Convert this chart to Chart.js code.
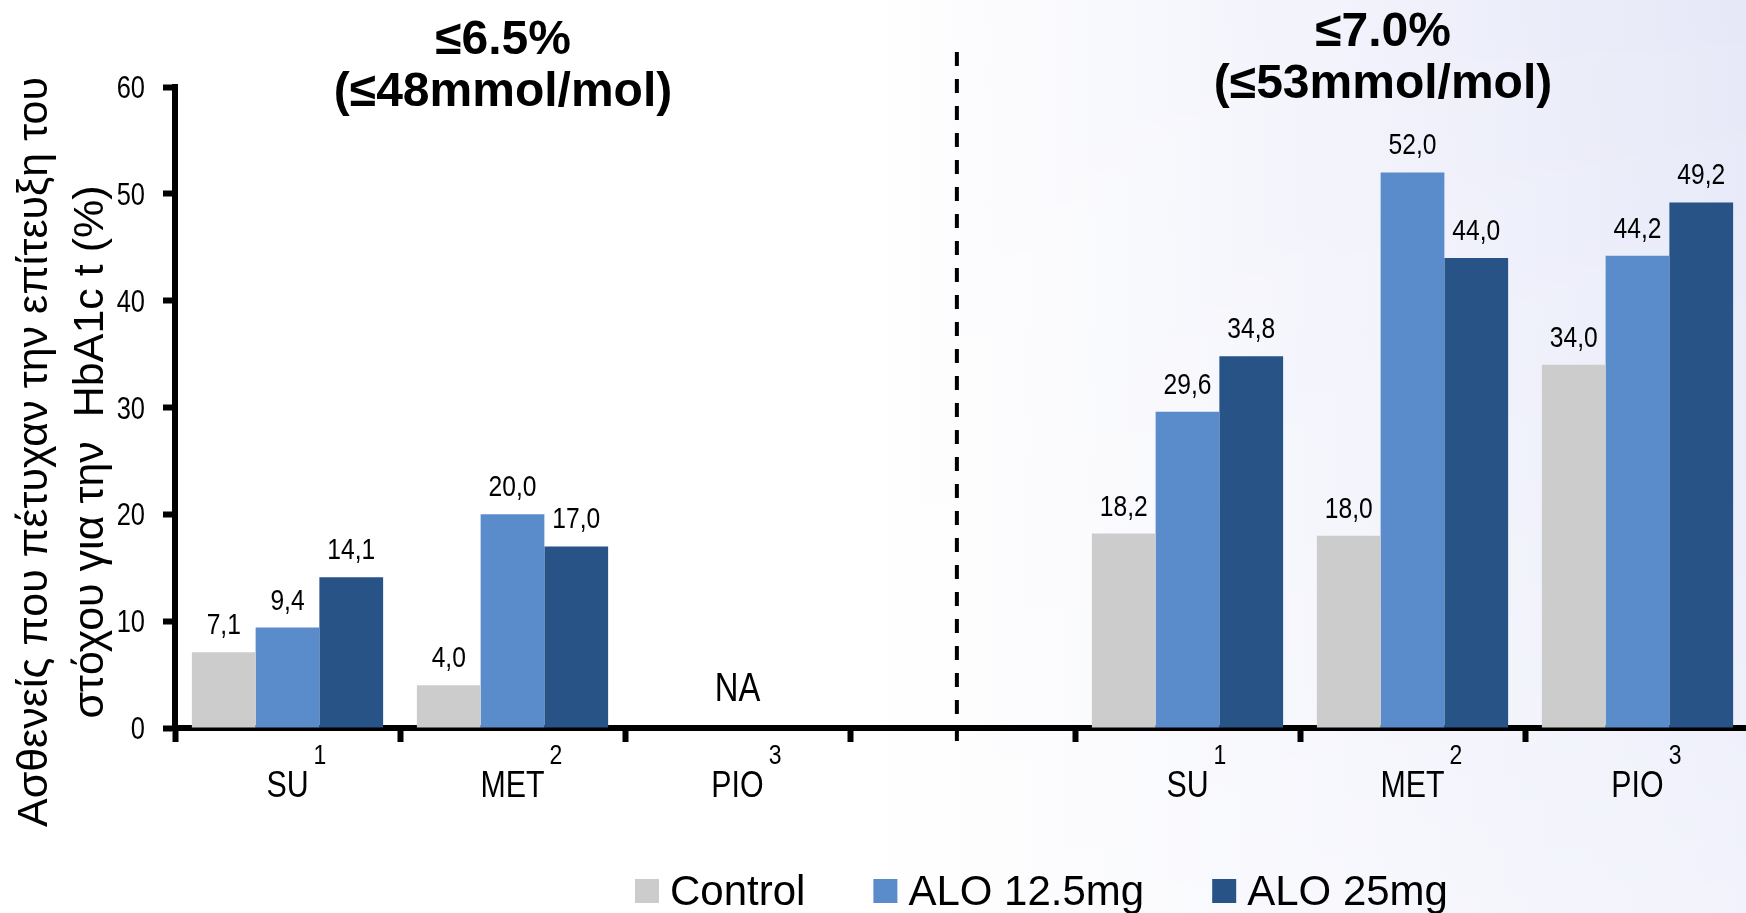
<!DOCTYPE html>
<html>
<head>
<meta charset="utf-8">
<script src="https://cdn.jsdelivr.net/npm/chart.js@4.4.1/dist/chart.umd.min.js"></script>
<style>
  html, body { margin: 0; padding: 0; width: 1746px; height: 913px; overflow: hidden; }
  body {
    background:
      linear-gradient(to bottom, rgba(255,255,255,0) 0%, rgba(255,255,255,0.45) 100%),
      linear-gradient(to right, #ffffff 0%, #ffffff 50%, #e6e8f8 100%);
  }
  #wrap { position: absolute; left: 0; top: 0; width: 1752px; height: 913px; }
</style>
</head>
<body>
<div id="wrap"><canvas id="c" width="1752" height="913"></canvas></div>
<script>
// Categories (the empty slot separates the two HbA1c target groups)
const categories   = ['SU', 'MET', 'PIO', '', 'SU', 'MET', 'PIO'];
const superscripts = ['1', '2', '3', '', '1', '2', '3'];

// Percentage of patients reaching the HbA1c target
const controlValues = [7.1, 4.0, null, null, 18.2, 18.0, 34.0];
const alo125Values  = [9.4, 20.0, null, null, 29.6, 52.0, 44.2];
const alo25Values   = [14.1, 17.0, null, null, 34.8, 44.0, 49.2];

const yTicks = [0, 10, 20, 30, 40, 50, 60];

const seriesNames  = ['Control', 'ALO 12.5mg', 'ALO 25mg'];
const seriesColors = ['#cccccc', '#5a8ccb', '#275386'];

const groupHeaders = [['≤6.5%', '(≤48mmol/mol)'], ['≤7.0%', '(≤53mmol/mol)']];
const missingIndex = 2;
const missingText  = 'NA';
const yTitleLines  = ['Ασθενείς που πέτυχαν την επίτευξη του', 'στόχου για την  HbA1c t (%)'];

const SANS = "'Liberation Sans', Arial, sans-serif";
const NARROW_SCALE = 0.82;

const fmt = v => v.toFixed(1).replace('.', ',');

// condensed text: Liberation Sans squeezed horizontally
function narrowText(ctx, text, x, y, size, align) {
  ctx.save();
  ctx.font = size + 'px ' + SANS;
  ctx.textAlign = align;
  ctx.textBaseline = 'alphabetic';
  ctx.translate(x, y);
  ctx.scale(NARROW_SCALE, 1);
  ctx.fillText(text, 0, 0);
  const w = ctx.measureText(text).width * NARROW_SCALE;
  ctx.restore();
  return w;
}

// Everything drawn around the plot: headers, divider, value labels, axis texts, legend
const decorations = {
  id: 'decorations',
  afterDraw(chart) {
    const ctx = chart.ctx;
    const xs = chart.scales.x;
    const ys = chart.scales.y;
    ctx.save();
    ctx.fillStyle = '#000';

    // group headers
    ctx.font = 'bold 48px ' + SANS;
    ctx.textAlign = 'center';
    ctx.textBaseline = 'alphabetic';
    const headerPos = [{ x: 503, y: 54 }, { x: 1383, y: 46 }];
    groupHeaders.forEach((lines, i) => {
      ctx.fillText(lines[0], headerPos[i].x, headerPos[i].y);
      ctx.fillText(lines[1], headerPos[i].x, headerPos[i].y + 52);
    });

    // dashed divider in the empty slot
    const divX = xs.getPixelForValue(2.975);
    ctx.strokeStyle = '#000';
    ctx.lineWidth = 4;
    ctx.setLineDash([14, 13]);
    ctx.beginPath();
    ctx.moveTo(divX, 52);
    ctx.lineTo(divX, 752);
    ctx.stroke();
    ctx.setLineDash([]);

    // y tick labels
    yTicks.forEach(v => {
      narrowText(ctx, String(v), ys.left + ys.width - 30, ys.getPixelForValue(v) + 11, 31, 'right');
    });

    // value labels above the bars
    chart.data.datasets.forEach((ds, di) => {
      const meta = chart.getDatasetMeta(di);
      meta.data.forEach((bar, i) => {
        const v = ds.data[i];
        if (v === null || v === undefined) return;
        narrowText(ctx, fmt(v), bar.x, bar.y - 18, 30, 'center');
      });
    });

    // not-available marker
    narrowText(ctx, missingText, xs.getPixelForValue(missingIndex), 701, 40, 'center');

    // category labels with superscripts
    categories.forEach((c, i) => {
      if (!c) return;
      const cx = xs.getPixelForValue(i);
      const w = narrowText(ctx, c, cx, 797, 37, 'center');
      narrowText(ctx, superscripts[i], cx + w / 2 + 5, 764, 28, 'left');
    });

    // y axis title (two rotated lines)
    ctx.font = '43px ' + SANS;
    ctx.textAlign = 'center';
    const titleX = [47, 103];
    yTitleLines.forEach((t, i) => {
      ctx.save();
      ctx.translate(titleX[i], 452);
      ctx.rotate(-Math.PI / 2);
      ctx.fillText(t, 0, 0);
      ctx.restore();
    });

    // legend
    ctx.font = '42px ' + SANS;
    ctx.textAlign = 'left';
    let lx = 635;
    seriesNames.forEach((name, i) => {
      ctx.fillStyle = seriesColors[i];
      ctx.fillRect(lx, 879, 24, 24);
      ctx.fillStyle = '#000';
      ctx.fillText(name, lx + 35, 905);
      lx += 35 + ctx.measureText(name).width + 68;
    });

    ctx.restore();
  }
};

new Chart(document.getElementById('c'), {
  type: 'bar',
  data: {
    labels: categories,
    datasets: [
      { label: seriesNames[0], data: controlValues, backgroundColor: seriesColors[0] },
      { label: seriesNames[1], data: alo125Values,  backgroundColor: seriesColors[1] },
      { label: seriesNames[2], data: alo25Values,   backgroundColor: seriesColors[2] }
    ]
  },
  options: {
    responsive: false,
    animation: false,
    devicePixelRatio: 1,
    layout: { padding: { top: 87, right: 2, left: 0, bottom: 0 } },
    datasets: { bar: { categoryPercentage: 0.85, barPercentage: 1.0 } },
    plugins: { legend: { display: false }, tooltip: { enabled: false } },
    scales: {
      x: {
        offset: true,
        ticks: { display: false },
        grid: { offset: true, drawOnChartArea: false, drawTicks: true, tickLength: 14, tickWidth: 6, tickColor: '#000' },
        border: { display: true, color: '#000', width: 6 },
        afterFit(s) { s.height = 913 - 728; }
      },
      y: {
        min: 0,
        max: 60,
        afterBuildTicks(s) { s.ticks = yTicks.map(v => ({ value: v })); },
        ticks: { display: false },
        grid: { drawOnChartArea: false, drawTicks: true, tickLength: 12, tickWidth: 6, tickColor: '#000' },
        border: { display: true, color: '#000', width: 6 },
        afterFit(s) { s.width = 175; }
      }
    }
  },
  plugins: [decorations]
});
</script>
</body>
</html>
